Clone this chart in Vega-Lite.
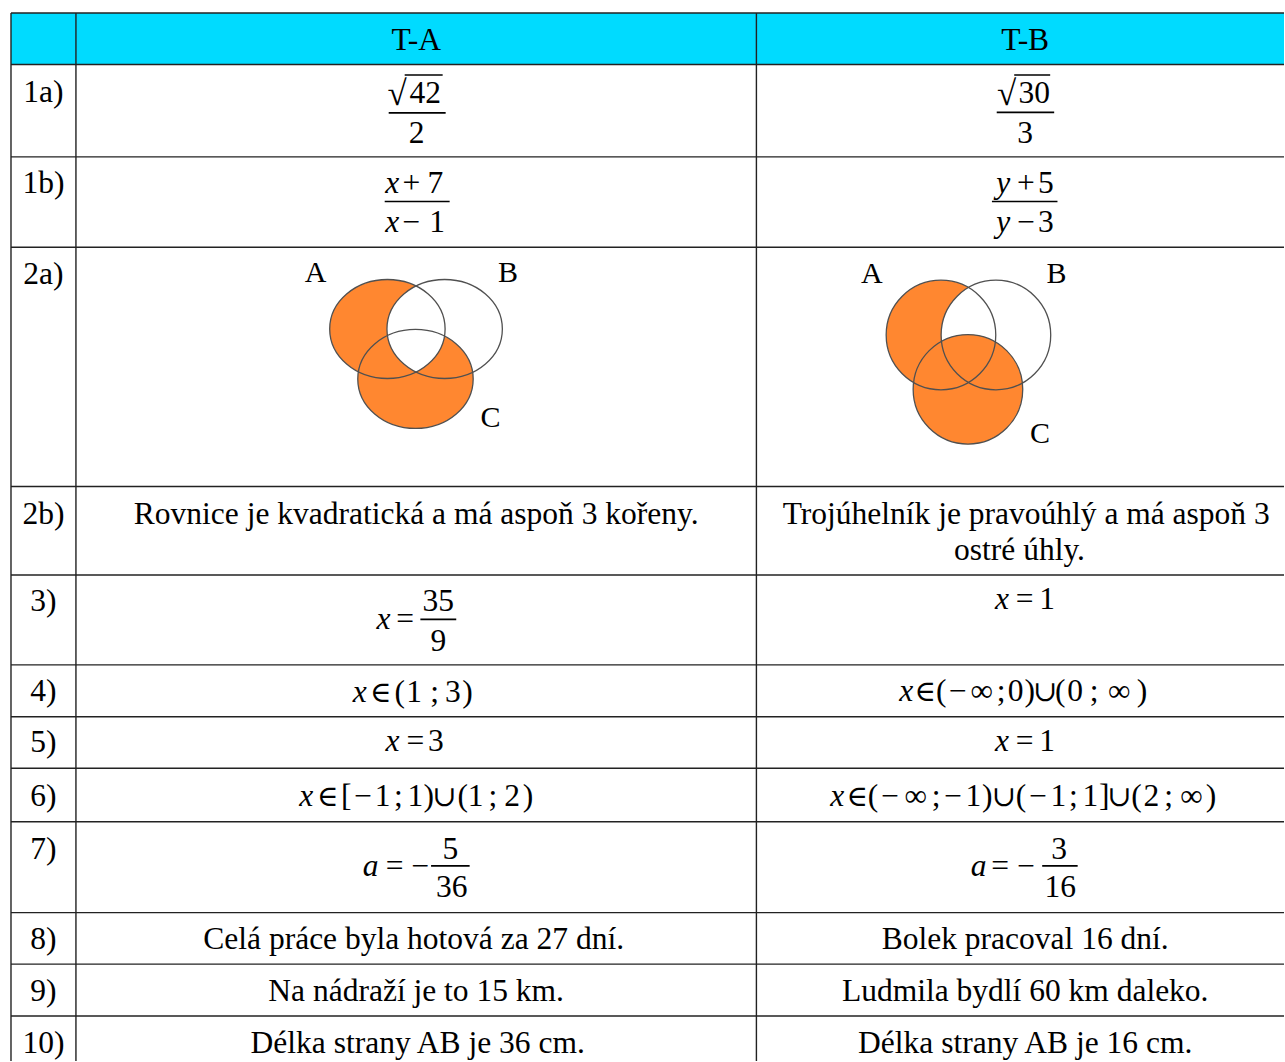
{
  "$schema": "https://vega.github.io/schema/vega-lite/v6.json",
  "width": 1285,
  "height": 1062,
  "autosize": {"type": "fit", "contains": "padding"},
  "padding": 0,
  "background": "white",
  "config": {"view": {"stroke": null}},
  "datasets": {
    "header": [{"x1": 11, "x2": 1285, "y1": 13, "y2": 64.5}],
    "lines": [
      {"x1": 11, "x2": 1285, "y1": 13, "y2": 13},
      {"x1": 11, "x2": 1285, "y1": 64.5, "y2": 64.5},
      {"x1": 11, "x2": 1285, "y1": 157, "y2": 157},
      {"x1": 11, "x2": 1285, "y1": 247.5, "y2": 247.5},
      {"x1": 11, "x2": 1285, "y1": 487, "y2": 487},
      {"x1": 11, "x2": 1285, "y1": 575.5, "y2": 575.5},
      {"x1": 11, "x2": 1285, "y1": 665.5, "y2": 665.5},
      {"x1": 11, "x2": 1285, "y1": 717.5, "y2": 717.5},
      {"x1": 11, "x2": 1285, "y1": 769, "y2": 769},
      {"x1": 11, "x2": 1285, "y1": 822.5, "y2": 822.5},
      {"x1": 11, "x2": 1285, "y1": 913.5, "y2": 913.5},
      {"x1": 11, "x2": 1285, "y1": 965, "y2": 965},
      {"x1": 11, "x2": 1285, "y1": 1017, "y2": 1017},
      {"x1": 11, "x2": 11, "y1": 13, "y2": 1062},
      {"x1": 76, "x2": 76, "y1": 13, "y2": 1062},
      {"x1": 757, "x2": 757, "y1": 13, "y2": 1062}
    ],
    "bars": [
      {"x1": 405, "x2": 443, "y": 75},
      {"x1": 389, "x2": 446, "y": 113},
      {"x1": 1015, "x2": 1051, "y": 75},
      {"x1": 997.5, "x2": 1055, "y": 112.5},
      {"x1": 385, "x2": 450, "y": 201.7},
      {"x1": 992.7, "x2": 1058.3, "y": 201.7},
      {"x1": 420.7, "x2": 456.6, "y": 620},
      {"x1": 431.4, "x2": 470, "y": 866.7},
      {"x1": 1043, "x2": 1078.5, "y": 866.7}
    ],
    "roman": [
      {"t": "T-A", "x": 416.5, "y": 50},
      {"t": "T-B", "x": 1026, "y": 50},
      {"t": "1a)", "x": 43.5, "y": 102},
      {"t": "1b)", "x": 43.5, "y": 193},
      {"t": "2a)", "x": 43.5, "y": 284},
      {"t": "2b)", "x": 43.5, "y": 524},
      {"t": "3)", "x": 43.5, "y": 612},
      {"t": "4)", "x": 43.5, "y": 702},
      {"t": "5)", "x": 43.5, "y": 753},
      {"t": "6)", "x": 43.5, "y": 807},
      {"t": "7)", "x": 43.5, "y": 860},
      {"t": "8)", "x": 43.5, "y": 950},
      {"t": "9)", "x": 43.5, "y": 1002},
      {"t": "10)", "x": 43.5, "y": 1054},
      {"t": "Rovnice je kvadratická a má aspoň 3 kořeny.", "x": 416.5, "y": 524},
      {"t": "Trojúhelník je pravoúhlý a má aspoň 3", "x": 1027, "y": 524},
      {"t": "ostré úhly.", "x": 1020.3, "y": 561},
      {"t": "Celá práce byla hotová za 27 dní.", "x": 414, "y": 950},
      {"t": "Na nádraží je to 15 km.", "x": 416.5, "y": 1002},
      {"t": "Délka strany AB je 36 cm.", "x": 418, "y": 1054},
      {"t": "Bolek pracoval 16 dní.", "x": 1026, "y": 950},
      {"t": "Ludmila bydlí 60 km daleko.", "x": 1026, "y": 1002},
      {"t": "Délka strany AB je 16 cm.", "x": 1026, "y": 1054},
      {"t": "42", "x": 425.5, "y": 103},
      {"t": "2", "x": 417, "y": 143},
      {"t": "30", "x": 1035, "y": 103},
      {"t": "3", "x": 1026, "y": 143},
      {"t": "+", "x": 411.7, "y": 193},
      {"t": "7", "x": 435.8, "y": 193},
      {"t": "−", "x": 411.8, "y": 232},
      {"t": "1", "x": 437.5, "y": 232},
      {"t": "+", "x": 1026.7, "y": 193},
      {"t": "5", "x": 1046.7, "y": 193},
      {"t": "−", "x": 1027, "y": 232},
      {"t": "3", "x": 1046.7, "y": 232},
      {"t": "=", "x": 405.5, "y": 630},
      {"t": "35", "x": 438.7, "y": 612},
      {"t": "9", "x": 438.7, "y": 652},
      {"t": "=", "x": 1025.5, "y": 610},
      {"t": "1", "x": 1048, "y": 610},
      {"t": "(", "x": 400, "y": 703},
      {"t": "1", "x": 414.4, "y": 703},
      {"t": ";", "x": 435, "y": 703},
      {"t": "3", "x": 453.3, "y": 703},
      {"t": ")", "x": 467.8, "y": 703},
      {"t": "(", "x": 942, "y": 702},
      {"t": "−", "x": 958.5, "y": 702},
      {"t": "∞", "x": 982.5, "y": 702},
      {"t": ";", "x": 1002, "y": 702},
      {"t": "0", "x": 1016.5, "y": 702},
      {"t": ")", "x": 1030.5, "y": 702},
      {"t": "(", "x": 1061, "y": 702},
      {"t": "0", "x": 1076, "y": 702},
      {"t": ";", "x": 1095, "y": 702},
      {"t": "∞", "x": 1120, "y": 702},
      {"t": ")", "x": 1143, "y": 702},
      {"t": "=", "x": 415.7, "y": 752},
      {"t": "3", "x": 436.3, "y": 752},
      {"t": "=", "x": 1025.5, "y": 752},
      {"t": "1", "x": 1048, "y": 752},
      {"t": "[", "x": 346.6, "y": 807},
      {"t": "−", "x": 363.5, "y": 807},
      {"t": "1", "x": 383, "y": 807},
      {"t": ";", "x": 398.7, "y": 807},
      {"t": "1", "x": 415.7, "y": 807},
      {"t": ")", "x": 429, "y": 807},
      {"t": "(", "x": 463, "y": 807},
      {"t": "1", "x": 476, "y": 807},
      {"t": ";", "x": 493.2, "y": 807},
      {"t": "2", "x": 512.6, "y": 807},
      {"t": ")", "x": 528.4, "y": 807},
      {"t": "(", "x": 873.7, "y": 807},
      {"t": "−", "x": 890.8, "y": 807},
      {"t": "∞", "x": 916.5, "y": 807},
      {"t": ";", "x": 936.8, "y": 807},
      {"t": "−", "x": 953.9, "y": 807},
      {"t": "1", "x": 974.2, "y": 807},
      {"t": ")", "x": 988.1, "y": 807},
      {"t": "(", "x": 1021.8, "y": 807},
      {"t": "−", "x": 1038.9, "y": 807},
      {"t": "1", "x": 1059.2, "y": 807},
      {"t": ";", "x": 1074.2, "y": 807},
      {"t": "1", "x": 1091.3, "y": 807},
      {"t": "]", "x": 1105.2, "y": 807},
      {"t": "(", "x": 1137.3, "y": 807},
      {"t": "2", "x": 1152.3, "y": 807},
      {"t": ";", "x": 1169.5, "y": 807},
      {"t": "∞", "x": 1192.5, "y": 807},
      {"t": ")", "x": 1212, "y": 807},
      {"t": "=", "x": 395, "y": 876.7},
      {"t": "−", "x": 420.6, "y": 876.7},
      {"t": "5", "x": 450.7, "y": 860},
      {"t": "36", "x": 452, "y": 898},
      {"t": "=", "x": 1001, "y": 876.7},
      {"t": "−", "x": 1027, "y": 876.7},
      {"t": "3", "x": 1060, "y": 860},
      {"t": "16", "x": 1061, "y": 898}
    ],
    "radicals": [
      {"t": "√", "x": 397.5, "y": 105},
      {"t": "√", "x": 1007.5, "y": 105}
    ],
    "symbols": [
      {"t": "∈", "x": 381, "y": 703},
      {"t": "∈", "x": 926, "y": 702},
      {"t": "∪", "x": 1046, "y": 702},
      {"t": "∈", "x": 328, "y": 807},
      {"t": "∪", "x": 444.8, "y": 807},
      {"t": "∈", "x": 858, "y": 807},
      {"t": "∪", "x": 1004.7, "y": 807},
      {"t": "∪", "x": 1120.2, "y": 807}
    ],
    "italic": [
      {"t": "x", "x": 392.5, "y": 193},
      {"t": "x", "x": 392.5, "y": 232},
      {"t": "y", "x": 1004, "y": 193},
      {"t": "y", "x": 1004, "y": 232},
      {"t": "x", "x": 383.7, "y": 630},
      {"t": "x", "x": 1002.8, "y": 610},
      {"t": "x", "x": 360, "y": 703},
      {"t": "x", "x": 907, "y": 702},
      {"t": "x", "x": 392.7, "y": 752},
      {"t": "x", "x": 1002.8, "y": 752},
      {"t": "x", "x": 306.5, "y": 807},
      {"t": "x", "x": 838, "y": 807},
      {"t": "a", "x": 370.8, "y": 876.7},
      {"t": "a", "x": 979.3, "y": 876.7}
    ],
    "vennLabels": [
      {"t": "A", "x": 315.8, "y": 282},
      {"t": "B", "x": 508.3, "y": 282},
      {"t": "C", "x": 490.8, "y": 427},
      {"t": "A", "x": 872.5, "y": 283.5},
      {"t": "B", "x": 1057.3, "y": 283.5},
      {"t": "C", "x": 1040.8, "y": 443.5}
    ],
    "vennA": [
      {"set": "A", "x": 387.7, "y": 329.3, "shaded": "yes"},
      {"set": "B", "x": 445, "y": 329.3, "shaded": "no"},
      {"set": "C", "x": 415.8, "y": 379.3, "shaded": "yes"}
    ],
    "lensA": [{"set": "A∩B", "x": 416.35, "y": 329.3}],
    "vennB": [
      {"set": "A", "x": 941.7, "y": 335.3, "shaded": "yes"},
      {"set": "B", "x": 996.7, "y": 335.3, "shaded": "no"},
      {"set": "C", "x": 968.7, "y": 389.7, "shaded": "yes"}
    ]
  },
  "layer": [
    {
      "data": {"name": "header"},
      "mark": {"type": "rect", "fill": "#00dbff"},
      "encoding": {
        "x": {"field": "x1", "type": "quantitative", "scale": {"domain": [0, 1285], "nice": false, "zero": false}, "axis": null},
        "x2": {"field": "x2"},
        "y": {"field": "y1", "type": "quantitative", "scale": {"domain": [0, 1062], "nice": false, "zero": false, "reverse": true}, "axis": null},
        "y2": {"field": "y2"}
      }
    },
    {
      "data": {"name": "vennA"},
      "transform": [{"filter": "datum.shaded == 'yes'"}],
      "mark": {"type": "point", "filled": true, "opacity": 1, "size": 4, "strokeWidth": 0, "fill": "#ff8730", "shape": "M-57.7,0A57.7,49.5,0,1,0,57.7,0A57.7,49.5,0,1,0,-57.7,0Z"},
      "encoding": {
        "x": {"field": "x", "type": "quantitative", "axis": null},
        "y": {"field": "y", "type": "quantitative", "axis": null}
      }
    },
    {
      "data": {"name": "lensA"},
      "mark": {"type": "point", "filled": true, "opacity": 1, "size": 4, "strokeWidth": 0, "fill": "#ffffff", "shape": "M0,-43A57.7,49.5,0,0,0,0,43A57.7,49.5,0,0,0,0,-43Z"},
      "encoding": {
        "x": {"field": "x", "type": "quantitative", "axis": null},
        "y": {"field": "y", "type": "quantitative", "axis": null}
      }
    },
    {
      "data": {"name": "vennA"},
      "mark": {"type": "point", "filled": false, "opacity": 1, "size": 4, "strokeWidth": 1.3, "stroke": "#505050", "shape": "M-57.7,0A57.7,49.5,0,1,0,57.7,0A57.7,49.5,0,1,0,-57.7,0Z"},
      "encoding": {
        "x": {"field": "x", "type": "quantitative", "axis": null},
        "y": {"field": "y", "type": "quantitative", "axis": null}
      }
    },
    {
      "data": {"name": "vennB"},
      "mark": {"type": "point", "filled": true, "opacity": 1, "size": 12010, "strokeWidth": 0, "shape": "circle"},
      "encoding": {
        "x": {"field": "x", "type": "quantitative", "axis": null},
        "y": {"field": "y", "type": "quantitative", "axis": null},
        "color": {"field": "shaded", "type": "nominal", "scale": {"domain": ["yes", "no"], "range": ["#ff8730", "#ffffff"]}, "legend": null}
      }
    },
    {
      "data": {"name": "vennB"},
      "mark": {"type": "point", "filled": false, "opacity": 1, "size": 12010, "strokeWidth": 1.3, "stroke": "#505050", "shape": "circle"},
      "encoding": {
        "x": {"field": "x", "type": "quantitative", "axis": null},
        "y": {"field": "y", "type": "quantitative", "axis": null}
      }
    },
    {
      "data": {"name": "lines"},
      "mark": {"type": "rule", "stroke": "#222222", "strokeWidth": 1.4},
      "encoding": {
        "x": {"field": "x1", "type": "quantitative", "axis": null},
        "x2": {"field": "x2"},
        "y": {"field": "y1", "type": "quantitative", "axis": null},
        "y2": {"field": "y2"}
      }
    },
    {
      "data": {"name": "bars"},
      "mark": {"type": "rule", "stroke": "#000000", "strokeWidth": 1.6},
      "encoding": {
        "x": {"field": "x1", "type": "quantitative", "axis": null},
        "x2": {"field": "x2"},
        "y": {"field": "y", "type": "quantitative", "axis": null}
      }
    },
    {
      "data": {"name": "roman"},
      "mark": {"type": "text", "font": "Liberation Serif", "fontSize": 31.5, "align": "center", "baseline": "alphabetic", "fill": "#000000"},
      "encoding": {
        "x": {"field": "x", "type": "quantitative", "axis": null},
        "y": {"field": "y", "type": "quantitative", "axis": null},
        "text": {"field": "t"}
      }
    },
    {
      "data": {"name": "radicals"},
      "mark": {"type": "text", "font": "Liberation Serif", "fontSize": 35, "align": "center", "baseline": "alphabetic", "fill": "#000000"},
      "encoding": {
        "x": {"field": "x", "type": "quantitative", "axis": null},
        "y": {"field": "y", "type": "quantitative", "axis": null},
        "text": {"field": "t"}
      }
    },
    {
      "data": {"name": "symbols"},
      "mark": {"type": "text", "font": "DejaVu Serif", "fontSize": 29, "align": "center", "baseline": "alphabetic", "fill": "#000000"},
      "encoding": {
        "x": {"field": "x", "type": "quantitative", "axis": null},
        "y": {"field": "y", "type": "quantitative", "axis": null},
        "text": {"field": "t"}
      }
    },
    {
      "data": {"name": "italic"},
      "mark": {"type": "text", "font": "Liberation Serif", "fontStyle": "italic", "fontSize": 31.5, "align": "center", "baseline": "alphabetic", "fill": "#000000"},
      "encoding": {
        "x": {"field": "x", "type": "quantitative", "axis": null},
        "y": {"field": "y", "type": "quantitative", "axis": null},
        "text": {"field": "t"}
      }
    },
    {
      "data": {"name": "vennLabels"},
      "mark": {"type": "text", "font": "Liberation Serif", "fontSize": 30, "align": "center", "baseline": "alphabetic", "fill": "#000000"},
      "encoding": {
        "x": {"field": "x", "type": "quantitative", "axis": null},
        "y": {"field": "y", "type": "quantitative", "axis": null},
        "text": {"field": "t"}
      }
    }
  ]
}
